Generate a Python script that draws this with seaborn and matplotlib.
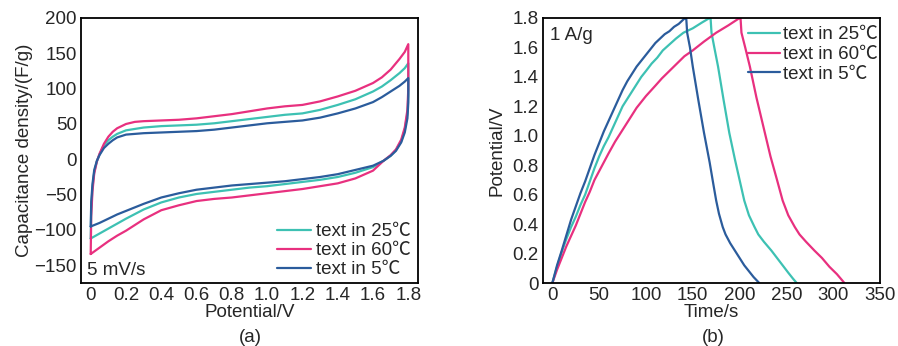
import numpy as np
import pandas as pd
import matplotlib
matplotlib.use("Agg")
import matplotlib.pyplot as plt
import seaborn as sns

sns.set_style("white")
plt.rcParams['font.family'] = ['Liberation Sans', 'Noto Sans CJK SC', 'DejaVu Sans']

labels = ["text in 25℃", "text in 60℃", "text in 5℃"]
colors = ["#3dc1b3", "#e8307f", "#2b5c9c"]

# (a) CV curves: upper (anodic) branch then lower (cathodic) branch
cv_up_x = [0.0, 0.003, 0.01, 0.02, 0.035, 0.05, 0.075, 0.1, 0.125, 0.15, 0.2, 0.25, 0.3, 0.4,
           0.5, 0.6, 0.7, 0.8, 0.9, 1.0, 1.1, 1.2, 1.3, 1.4, 1.5, 1.6, 1.65, 1.7, 1.75, 1.78, 1.8]
cv_up_60 = [-134, -80, -45, -20, -3, 8, 22, 32, 39, 44, 50, 53, 54, 55, 56, 58, 61, 64, 68, 72,
            75, 77, 82, 89, 97, 108, 116, 127, 142, 152, 163]
cv_up_25 = [-112, -70, -40, -18, -3, 7, 20, 27, 32, 36, 41, 43, 45, 47, 48, 49, 51, 54, 57, 60,
            63, 65, 70, 77, 85, 96, 103, 112, 122, 129, 136]
cv_up_5 = [-95, -60, -35, -15, -2, 6, 16, 22, 27, 31, 35, 36, 37, 38, 39, 40, 42, 45, 48, 51,
           53, 55, 59, 65, 72, 81, 88, 96, 104, 110, 115]

cv_lo_x = [1.8, 1.795, 1.78, 1.76, 1.73, 1.7, 1.66, 1.6, 1.5, 1.4, 1.3, 1.2, 1.1, 1.0, 0.9, 0.8,
           0.7, 0.6, 0.5, 0.4, 0.3, 0.2, 0.15, 0.1, 0.05, 0.0]
cv_lo_60 = [100, 70, 45, 28, 14, 6, -2, -16, -27, -34, -38, -42, -45, -48, -51, -54, -56, -59,
            -65, -72, -85, -101, -108, -116, -125, -134]
cv_lo_25 = [90, 65, 42, 26, 13, 5, -2, -11, -19, -25, -29, -32, -35, -38, -40, -43, -46, -49,
            -54, -61, -71, -84, -91, -98, -105, -112]
cv_lo_5 = [80, 58, 38, 24, 12, 5, -2, -9, -15, -21, -25, -28, -31, -33, -35, -37, -40, -43,
           -48, -54, -63, -73, -78, -84, -90, -95]

# (b) galvanostatic charge/discharge at 1 A/g
t_25 = [0, 5, 10, 15, 20, 25, 30, 35, 40, 45, 50, 55, 60, 65, 70, 75, 80, 85, 90, 95, 100,
        106, 112, 118, 125, 132, 140, 150, 160, 168,
        169, 170, 173, 177, 183, 189, 195, 200, 205, 210, 216, 220, 226, 234, 240, 246, 252, 257, 261]
v_25 = [0, 0.11, 0.21, 0.30, 0.38, 0.45, 0.53, 0.60, 0.69, 0.78, 0.86, 0.93, 0.99, 1.06, 1.13,
        1.20, 1.25, 1.30, 1.35, 1.40, 1.44, 1.49, 1.53, 1.58, 1.62, 1.66, 1.70, 1.73, 1.77, 1.8,
        1.8, 1.70, 1.60, 1.47, 1.24, 1.02, 0.84, 0.70, 0.56, 0.46, 0.38, 0.33, 0.28, 0.22, 0.17,
        0.12, 0.07, 0.03, 0]
t_60 = [0, 5, 10, 15, 20, 25, 30, 35, 40, 45, 50, 55, 60, 67, 75, 82, 90, 100, 110, 117, 125,
        133, 141, 150, 162, 175, 188, 200,
        201, 202, 206, 211, 218, 227, 233, 240, 246, 252, 259, 264, 271, 280, 288, 296, 304, 312]
v_60 = [0, 0.09, 0.17, 0.25, 0.32, 0.39, 0.47, 0.55, 0.62, 0.70, 0.76, 0.82, 0.88, 0.96, 1.04,
        1.11, 1.19, 1.27, 1.34, 1.39, 1.44, 1.49, 1.54, 1.58, 1.64, 1.70, 1.75, 1.8,
        1.8, 1.70, 1.60, 1.47, 1.26, 1.02, 0.86, 0.70, 0.56, 0.46, 0.38, 0.33, 0.28, 0.22, 0.17,
        0.11, 0.06, 0]
t_5 = [0, 5, 10, 20, 25, 30, 35, 40, 45, 50, 55, 60, 65, 70, 75, 80, 85, 90, 95, 100, 105, 110,
       115, 120, 125, 130, 135, 140, 142,
       143, 144, 147, 150, 156, 162, 168, 172, 175, 178, 182, 185, 190, 195, 200, 205, 210, 215, 221]
v_5 = [0, 0.12, 0.22, 0.43, 0.52, 0.61, 0.69, 0.78, 0.87, 0.95, 1.03, 1.10, 1.17, 1.24, 1.31,
       1.37, 1.42, 1.47, 1.51, 1.55, 1.59, 1.63, 1.66, 1.69, 1.71, 1.74, 1.76, 1.79, 1.8,
       1.8, 1.70, 1.60, 1.47, 1.24, 1.02, 0.82, 0.67, 0.56, 0.47, 0.38, 0.33, 0.27, 0.22, 0.17,
       0.12, 0.08, 0.04, 0]

cv_frames = []
for lab, up, lo in zip(labels, [cv_up_25, cv_up_60, cv_up_5], [cv_lo_25, cv_lo_60, cv_lo_5]):
    cv_frames.append(pd.DataFrame({"E": cv_up_x + cv_lo_x, "C": up + lo, "T": lab}))
cv_df = pd.concat(cv_frames, ignore_index=True)

gcd_frames = []
for lab, t, v in zip(labels, [t_25, t_60, t_5], [v_25, v_60, v_5]):
    gcd_frames.append(pd.DataFrame({"t": t, "V": v, "T": lab}))
gcd_df = pd.concat(gcd_frames, ignore_index=True)

W, H = 898, 346
fig = plt.figure(figsize=(W / 100, H / 100), dpi=100)
ax1 = fig.add_axes([81 / W, 63 / H, 337 / W, 265 / H])
ax2 = fig.add_axes([543 / W, 63 / H, 337 / W, 265 / H])

fs = 13.5
pal = dict(zip(labels, colors))

sns.lineplot(data=cv_df, x="E", y="C", hue="T", hue_order=labels, palette=pal,
             sort=False, estimator=None, lw=1.6, ax=ax1)
sns.lineplot(data=gcd_df, x="t", y="V", hue="T", hue_order=labels, palette=pal,
             sort=False, estimator=None, lw=1.6, ax=ax2)

ax1.set_xlim(-0.055, 1.855)
ax1.set_ylim(-175, 200)
ax1.set_xticks(np.arange(0, 1.81, 0.2))
ax1.set_xticklabels(["0"] + [f"{v:.1f}" for v in np.arange(0.2, 1.81, 0.2)])
ax1.set_yticks(np.arange(-150, 201, 50))
ax1.set_yticklabels(["\u2212150", "\u2212100", "\u221250", "0", "50", "100", "150", "200"])
ax1.set_xlabel("Potential/V", fontsize=fs, labelpad=0)
ax1.set_ylabel("Capacitance density/(F/g)", fontsize=fs, labelpad=1)
ax1.text(0.018, 0.03, "5 mV/s", transform=ax1.transAxes, fontsize=fs)
ax1.legend(loc="lower right", frameon=False, fontsize=fs, handlelength=1.8,
           handletextpad=0.25, labelspacing=0.1, borderaxespad=0.0,
           bbox_to_anchor=(1.0, -0.01))

ax2.set_xlim(-10, 350)
ax2.set_ylim(0, 1.8)
ax2.set_xticks(np.arange(0, 351, 50))
ax2.set_yticks(np.arange(0, 1.81, 0.2))
ax2.set_yticklabels(["0"] + [f"{v:.1f}" for v in np.arange(0.2, 1.81, 0.2)])
ax2.set_xlabel("Time/s", fontsize=fs, labelpad=0)
ax2.set_ylabel("Potential/V", fontsize=fs, labelpad=5)
ax2.text(0.02, 0.965, "1 A/g", transform=ax2.transAxes, fontsize=fs, va="top")
ax2.legend(loc="upper right", frameon=False, fontsize=fs, handlelength=1.7,
           handletextpad=0.15, labelspacing=0.15, borderaxespad=0.0,
           bbox_to_anchor=(1.015, 0.998))

for ax in (ax1, ax2):
    ax.tick_params(direction="in", length=3, width=1, labelsize=fs, pad=3, color="black")
    for s in ax.spines.values():
        s.set_color("black")
        s.set_linewidth(1.3)

fig.text(250 / W, 1 - 337 / H, "(a)", ha="center", va="center", fontsize=fs)
fig.text(713 / W, 1 - 337 / H, "(b)", ha="center", va="center", fontsize=fs)

fig.savefig("out.png", dpi=100)
